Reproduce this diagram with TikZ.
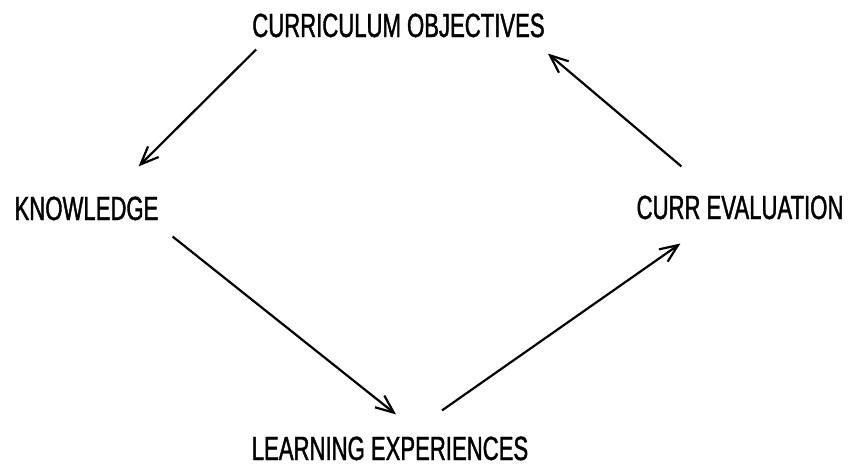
\documentclass[tikz,border=0pt]{standalone}
\usepackage{fontspec}
\newfontfamily\stagefont{Liberation Sans}[FakeStretch=0.66, FakeBold=1.2]
\usetikzlibrary{arrows.meta}

\begin{document}
\begin{tikzpicture}[x=1pt, y=-1pt,
    stage/.style={inner sep=0pt, anchor=base, font=\stagefont\fontsize{33.5}{40}\selectfont},
    flow/.style={line width=2.2pt, -{Straight Barb[length=18pt, width=15pt]}}]
      \useasboundingbox (0, 0) rectangle (851, 466);
      \node (obj)[stage] at (398.5, 37) {CURRICULUM OBJECTIVES};
      \node (know)[stage] at (86.5, 220) {KNOWLEDGE};
      \node (eval)[stage] at (740, 219) {CURR EVALUATION};
      \node (learn)[stage] at (390, 460) {LEARNING EXPERIENCES};
      \draw[flow] ([shift={(4, 12)}]obj.south west) -- ([shift={(-20, -30)}]know.north east);
      \draw[flow] ([shift={(14, 16)}]know.south east) -- ([shift={(6, -22)}]learn.north);
      \draw[flow] ([shift={(52, -26)}]learn.north) -- ([shift={(44, 24)}]eval.south west);
      \draw[flow] ([shift={(45, -29)}]eval.north west) -- ([shift={(3, 16)}]obj.south east);
\end{tikzpicture}
\end{document}
